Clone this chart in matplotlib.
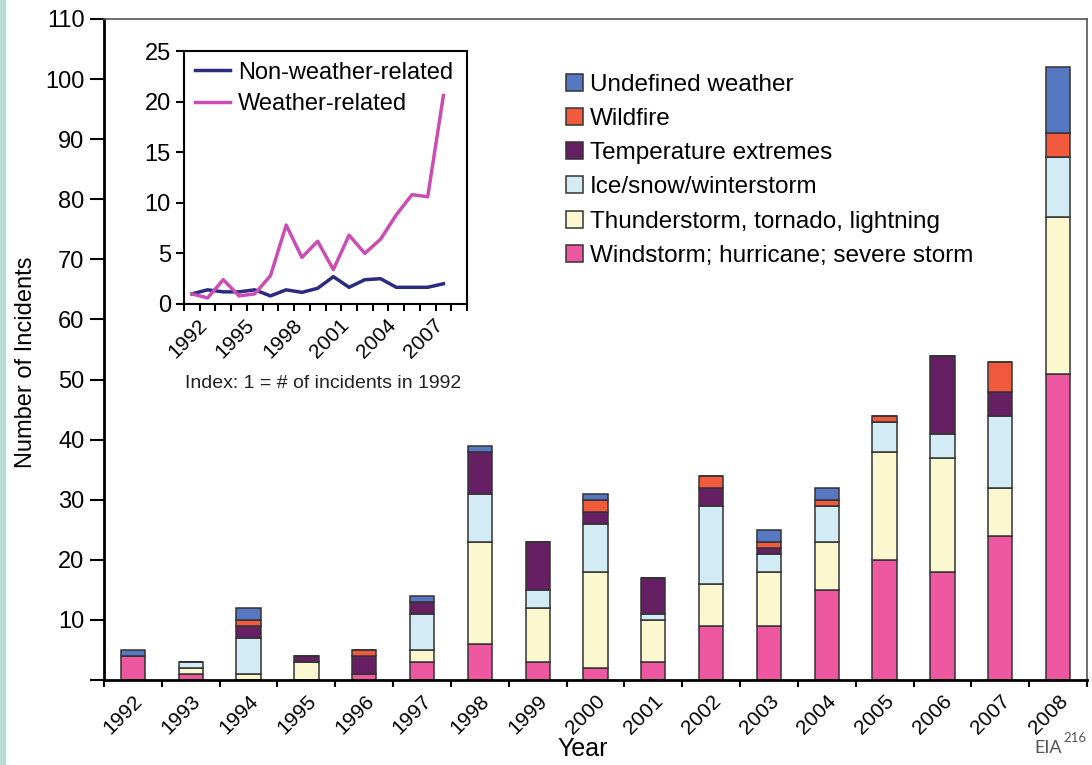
import matplotlib.pyplot as plt
from matplotlib.patches import Rectangle
from matplotlib.transforms import ScaledTranslation
import numpy as np

plt.rcParams['font.family'] = ['Liberation Sans', 'DejaVu Sans']

years = ['1992', '1993', '1994', '1995', '1996', '1997', '1998', '1999', '2000',
         '2001', '2002', '2003', '2004', '2005', '2006', '2007', '2008']

# incident counts per category (bottom to top of each stack)
windstorm = [4, 1, 0, 0, 1, 3, 6, 3, 2, 3, 9, 9, 15, 20, 18, 24, 51]
thunder = [0, 1, 1, 3, 0, 2, 17, 9, 16, 7, 7, 9, 8, 18, 19, 8, 26]
ice_snow = [0, 1, 6, 0, 0, 6, 8, 3, 8, 1, 13, 3, 6, 5, 4, 12, 10]
temperature = [0, 0, 2, 1, 3, 2, 7, 8, 2, 6, 3, 1, 0, 0, 13, 4, 0]
wildfire = [0, 0, 1, 0, 1, 0, 0, 0, 2, 0, 2, 1, 1, 1, 0, 5, 4]
undefined = [1, 0, 2, 0, 0, 1, 1, 0, 1, 0, 0, 2, 2, 0, 0, 0, 11]

series = [
    ('Windstorm; hurricane; severe storm', windstorm, '#ee58a0'),
    ('Thunderstorm, tornado, lightning', thunder, '#fbf8cf'),
    ('Ice/snow/winterstorm', ice_snow, '#d3ebf4'),
    ('Temperature extremes', temperature, '#661f63'),
    ('Wildfire', wildfire, '#f25a3e'),
    ('Undefined weather', undefined, '#5677c1'),
]

# inset: index, 1 = number of incidents in 1992
idx_years = [1992, 1993, 1994, 1995, 1996, 1997, 1998, 1999, 2000,
             2001, 2002, 2003, 2004, 2005, 2006, 2007, 2008]
non_weather = [1.0, 1.4, 1.2, 1.2, 1.4, 0.8, 1.4, 1.15, 1.55,
               2.7, 1.65, 2.4, 2.5, 1.65, 1.65, 1.65, 2.0]
weather = [1.0, 0.6, 2.4, 0.8, 1.0, 2.8, 7.8, 4.6, 6.2,
           3.4, 6.8, 5.0, 6.4, 8.8, 10.8, 10.6, 20.6]

fig = plt.figure(figsize=(10.92, 7.65), dpi=100)
fig.patches.append(Rectangle((0, 0), 5 / 1092, 1, transform=fig.transFigure,
                             color='#b8dbd3', zorder=-1))

ax = fig.add_axes([104 / 1092, 1 - 680 / 765, 983 / 1092, 661 / 765])
x = np.arange(len(years))
bottom = np.zeros(len(years))
handles = []
for name, vals, col in series:
    b = ax.bar(x, vals, bottom=bottom, width=0.42, color=col,
               edgecolor='#333333', linewidth=1.1, label=name)
    handles.append(b)
    bottom += np.array(vals)

ax.set_xlim(-0.5, len(years) - 0.5)
ax.set_ylim(0, 110)
ax.set_yticks(np.arange(0, 111, 10))
ax.set_yticklabels([''] + [str(v) for v in range(10, 111, 10)])
ax.set_xticks(x)
ax.set_xticklabels(years, rotation=45, ha='right', rotation_mode='anchor')
ax.set_xticks(np.arange(-0.5, len(years), 1), minor=True)
ax.tick_params(axis='x', which='major', length=0, labelsize=15, pad=8)
ax.tick_params(axis='x', which='minor', length=5, width=1.5)
ax.tick_params(axis='y', length=10, width=1.5, labelsize=17, pad=4)
for s in ['left', 'bottom']:
    ax.spines[s].set_linewidth(2)
for s in ['top', 'right']:
    ax.spines[s].set_linewidth(1.2)
    ax.spines[s].set_color('#555555')
ax.set_ylabel('Number of Incidents', fontsize=17)
ax.yaxis.set_label_coords(-0.068, 0.481)
ax.set_xlabel('Year', fontsize=18)
ax.xaxis.set_label_coords(0.487, -0.086)

leg = ax.legend(handles[::-1], [h.get_label() for h in handles[::-1]],
                loc='upper left', bbox_to_anchor=(544 / 1092, 1 - 52 / 765),
                bbox_transform=fig.transFigure, frameon=False, fontsize=17.5,
                handlelength=0.7, handleheight=0.7, handletextpad=0.3,
                labelspacing=0.5)

ins = fig.add_axes([184 / 1092, 1 - 304 / 765, 283 / 1092, 253 / 765])
ins.plot(idx_years, non_weather, color='#2b2b80', lw=2.5, label='Non-weather-related')
ins.plot(idx_years, weather, color='#c94db5', lw=2.5, label='Weather-related')
ins.set_xlim(1991.5, 2009.5)
ins.set_ylim(0, 25)
ins.set_yticks(np.arange(0, 26, 5))
ins.set_xticks([1992, 1995, 1998, 2001, 2004, 2007])
ins.set_xticklabels(['1992', '1995', '1998', '2001', '2004', '2007'],
                    rotation=45, ha='right', rotation_mode='anchor')
ins.set_xticks(np.arange(1991.5, 2010, 1), minor=True)
ins.tick_params(axis='x', which='major', length=0, labelsize=15, pad=6)
ins.tick_params(axis='x', which='minor', length=5, width=1.5)
ins.tick_params(axis='y', length=6, width=1.5, labelsize=17)
shift = ScaledTranslation(6 / 100, -3 / 100, fig.dpi_scale_trans)
for lab in ins.get_xticklabels():
    lab.set_transform(lab.get_transform() + shift)
for s in ins.spines.values():
    s.set_linewidth(1.5)
ins.legend(loc='upper left', frameon=False, fontsize=17, handlelength=1.5,
           handletextpad=0.35, labelspacing=0.4, borderaxespad=0.15,
           borderpad=0.3)
fig.text(185 / 1092, 1 - 383 / 765, 'Index: 1 = # of incidents in 1992',
         fontsize=14, va='center', ha='left', color='#222222')

fig.text(1062 / 1092, 1 - 748 / 765, 'EIA', fontsize=13, ha='right',
         va='center', color='#555555', family=['Lato', 'DejaVu Sans'])
fig.text(1063 / 1092, 1 - 738 / 765, '216', fontsize=9.5, ha='left',
         va='center', color='#555555', family=['Lato', 'DejaVu Sans'])

fig.savefig('out.png', dpi=100)
